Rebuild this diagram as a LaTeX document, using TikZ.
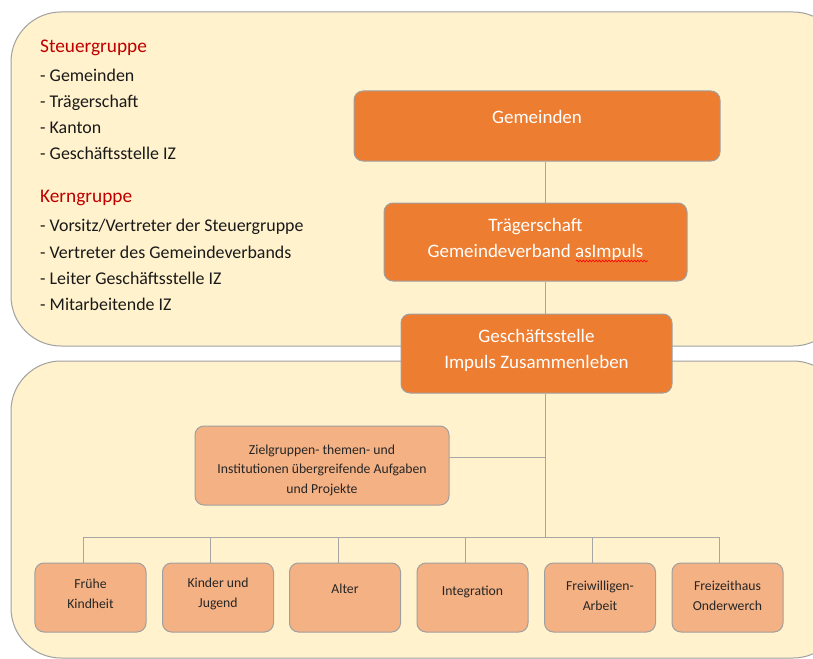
\documentclass[tikz,border=0pt]{standalone}
\usepackage{fontspec}
\setmainfont{Carlito}
\usetikzlibrary{decorations.pathmorphing}
\definecolor{panelfill}{HTML}{FFF2CC}
\definecolor{darkbox}{HTML}{ED7D31}
\definecolor{lightbox}{HTML}{F4B183}
\definecolor{edgegray}{HTML}{A0A0A0}
\definecolor{linegray}{HTML}{A6A6A6}
\definecolor{headred}{HTML}{C00000}
\tikzset{
  panelbox/.style={fill=panelfill, draw=edgegray, line width=1bp, rounded corners=50bp},
  darkbox/.style={rectangle, fill=darkbox, draw=edgegray, line width=1bp, rounded corners=9bp, inner sep=0pt},
  lightbox/.style={rectangle, fill=lightbox, draw=edgegray, line width=1bp, rounded corners=9bp, inner sep=0pt, minimum width=111bp, minimum height=69bp},
  wtext/.style={text=white, align=center, inner sep=0pt, font=\fontsize{19bp}{25.5bp}\selectfont},
  stext/.style={text=black!85, align=center, inner sep=0pt, font=\fontsize{13.7bp}{19.5bp}\selectfont},
  listtext/.style={anchor=base west, inner sep=0pt, text=black!90, font=\fontsize{17.9bp}{20bp}\selectfont},
  headtext/.style={anchor=base west, inner sep=0pt, text=headred, font=\fontsize{19.3bp}{22bp}\selectfont},
  conn/.style={draw=linegray, line width=1bp}
}
\begin{document}
\begin{tikzpicture}[x=1bp,y=-1bp]
\useasboundingbox (0,0) rectangle (813,659);
\fill[white] (0,0) rectangle (813,659);
\begin{scope}
\clip (0,0) rectangle (813,659);
\path[panelbox] (11,12) rectangle (843,346);
\path[panelbox] (11,361) rectangle (843,658);
\end{scope}

% left texts
\node[headtext] (h1) at (40,53) {Steuergruppe};
\node[listtext] (s1) at (40,82) {- Gemeinden};
\node[listtext] (s2) at (40,108) {- Trägerschaft};
\node[listtext] (s3) at (40,134) {- Kanton};
\node[listtext] (s4) at (40,160) {- Geschäftsstelle IZ};
\node[headtext] (h2) at (40,202) {Kerngruppe};
\node[listtext] (k1) at (40,231) {- Vorsitz/Vertreter der Steuergruppe};
\node[listtext] (k2) at (40,258) {- Vertreter des Gemeindeverbands};
\node[listtext] (k3) at (40,284) {- Leiter Geschäftsstelle IZ};
\node[listtext] (k4) at (40,310) {- Mitarbeitende IZ};

\coordinate (trunk) at (545,0);
\coordinate (bar) at (0,537);

% main boxes
\node[darkbox, minimum width=366bp, minimum height=70bp] (gem) at (537,126) {};
\node[darkbox, minimum width=303bp, minimum height=78bp] (trae) at (535.5,242) {};
\node[darkbox, minimum width=271bp, minimum height=79bp] (ges) at (536.5,353.5) {};
\node[lightbox, minimum width=254bp, minimum height=79bp] (ziel) at (322,465.5) {};

\node[lightbox] (b1) at (90.5,597.5) {};
\node[lightbox] (b2) at (218,597.5) {};
\node[lightbox] (b3) at (345,597.5) {};
\node[lightbox] (b4) at (472.5,597.5) {};
\node[lightbox] (b5) at (600,597.5) {};
\node[lightbox] (b6) at (727.5,597.5) {};

% connectors
\draw[conn] (gem.south -| trunk) -- (trae.north -| trunk);
\draw[conn] (trae.south -| trunk) -- (ges.north -| trunk);
\draw[conn] (ges.south -| trunk) -- (bar -| trunk);
\draw[conn] ([yshift=8.5bp]ziel.east) -- ([yshift=8.5bp]ziel.east -| trunk);
\draw[conn] ([xshift=-7.5bp]b1.north) -- ([xshift=-7.5bp]b1.north |- bar) -- ([xshift=-8.5bp]b6.north |- bar) -- ([xshift=-8.5bp]b6.north);
\draw[conn] ([xshift=-8bp]b2.north) -- ([xshift=-8bp]b2.north |- bar);
\draw[conn] ([xshift=-7bp]b3.north) -- ([xshift=-7bp]b3.north |- bar);
\draw[conn] ([xshift=-7.5bp]b4.north) -- ([xshift=-7.5bp]b4.north |- bar);
\draw[conn] ([xshift=-8bp]b5.north) -- ([xshift=-8bp]b5.north |- bar);

% box texts (anchor base = baseline of last line)
\node[wtext, anchor=base] (gemT) at (537,124) {Gemeinden};
\node[wtext, anchor=base] (traeT) at (535.5,257) {Trägerschaft\\Gemeindeverband asImpuls};
\node[wtext, anchor=base] (gesT) at (536.5,368) {Geschäftsstelle\\Impuls Zusammenleben};
\draw[red, line width=0.6bp, decorate, decoration={snake, amplitude=0.9bp, segment length=3.2bp}] (576,261) -- (648,261);
\node[stext, anchor=base] (zielT) at (322,493) {Zielgruppen- themen- und\\Institutionen übergreifende Aufgaben\\und Projekte};
\node[stext, anchor=base] (t1) at (90.5,608) {Frühe\\Kindheit};
\node[stext, anchor=base] (t2) at (218,607) {Kinder und\\Jugend};
\node[stext, anchor=base] (t3) at (345,593) {Alter};
\node[stext, anchor=base] (t4) at (472.5,595) {Integration};
\node[stext, anchor=base] (t5) at (600,610) {Freiwilligen-\\Arbeit};
\node[stext, anchor=base] (t6) at (727.5,610) {Freizeithaus\\Onderwerch};
\end{tikzpicture}
\end{document}
